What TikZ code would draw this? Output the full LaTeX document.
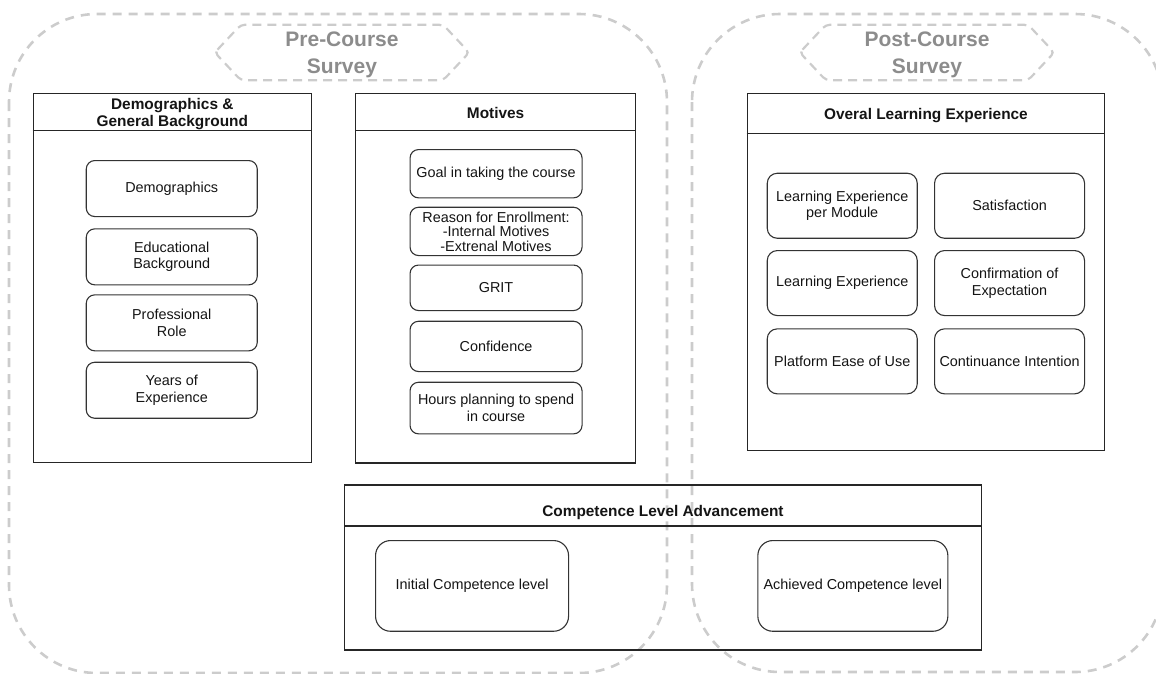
\documentclass[tikz,border=0pt]{standalone}
\usepackage{fontspec}
\setmainfont{Liberation Sans}
\usetikzlibrary{calc}
\definecolor{zonegray}{HTML}{CCCCCC}
\definecolor{zonetext}{HTML}{8C8C8C}
\definecolor{inkline}{HTML}{333333}
\definecolor{inktext}{HTML}{141414}

\begin{document}
\begin{tikzpicture}[x=1pt,y=-1pt,
  zone/.style={draw=zonegray, line width=2.6pt, dash pattern=on 9pt off 7pt, rounded corners=88pt},
  zonetag/.style={minimum width=254pt, minimum height=55pt, inner sep=0pt, align=center,
    text=zonetext, font=\fontsize{21}{26.5}\selectfont\bfseries},
  tagframe/.style={draw=zonegray, line width=2.2pt, dash pattern=on 9pt off 6pt, rounded corners=4pt},
  panel/.style={draw=black!85, line width=1.2pt, anchor=north west, inner sep=0pt},
  panelrule/.style={draw=black!85, line width=1.2pt},
  paneltitle/.style={font=\fontsize{15.4}{17}\selectfont\bfseries, text=black!92, align=center, inner sep=0pt},
  item/.style={draw=inkline, line width=1.1pt, rounded corners=8.5pt, anchor=north west, inner sep=0pt,
    align=center, text=inktext, font=\fontsize{14.4}{16.5}\selectfont},
  wideitem/.style={item, rounded corners=10pt},
  bigitem/.style={item, rounded corners=15pt},
]
\useasboundingbox (0,0) rectangle (1156,673);

% survey zones (dashed rounded outlines)
\begin{scope}
  \clip (0,0) rectangle (1156,673);
  \draw[zone] (9,14) rectangle (667,673);
  \draw[zone] (692,14) rectangle (1163,672);
\end{scope}

% hexagonal zone labels
\coordinate (prec) at (342,52.5);
\coordinate (postc) at (927,52.5);
\node[zonetag] (pre) at (prec) {};
\node[text=zonetext, font=\fontsize{21}{26.5}\selectfont\bfseries, align=center, inner sep=0pt]
  (pretext) at ($(prec)+(0,2.5)$) {Pre-Course\\Survey};
\draw[tagframe] (pre.west) -- ($(pre.north west)+(26,0)$) -- ($(pre.north east)+(-26,0)$)
  -- (pre.east) -- ($(pre.south east)+(-26,0)$) -- ($(pre.south west)+(26,0)$) -- cycle;
\node[zonetag] (post) at (postc) {};
\node[text=zonetext, font=\fontsize{21}{26.5}\selectfont\bfseries, align=center, inner sep=0pt]
  (posttext) at ($(postc)+(0,2.5)$) {Post-Course\\Survey};
\draw[tagframe] (post.west) -- ($(post.north west)+(26,0)$) -- ($(post.north east)+(-26,0)$)
  -- (post.east) -- ($(post.south east)+(-26,0)$) -- ($(post.south west)+(26,0)$) -- cycle;

% Demographics & General Background
\node[panel, minimum width=278pt, minimum height=369.3pt] (demo) at (32.7,92.7) {};
\draw[panelrule] ($(demo.north west)+(0,38)$) -- ($(demo.north east)+(0,38)$);
\node[paneltitle] (demotitle) at ($(demo.north)+(0,21)$) {Demographics \&\\General Background};
\node[item, minimum width=171pt, minimum height=56pt] (dem1) at (85.7,160) {Demographics};
\node[item, minimum width=171pt, minimum height=56pt] (dem2) at (85.7,228.3) {Educational\\Background};
\node[item, minimum width=171pt, minimum height=56pt] (dem3) at (85.7,294.3) {Professional\\Role};
\node[item, minimum width=171pt, minimum height=56pt] (dem4) at (85.7,361.7) {Years of\\Experience};

% Motives
\node[panel, minimum width=280pt, minimum height=369.6pt] (mot) at (355,92.7) {};
\draw[panelrule] ($(mot.north west)+(0,38)$) -- ($(mot.north east)+(0,38)$);
\node[paneltitle] (mottitle) at ($(mot.north)+(0,20.5)$) {Motives};
\node[item, minimum width=172pt, minimum height=48.3pt] (mot1) at (409.5,149) {Goal in taking the course};
\node[item, minimum width=172pt, minimum height=48.3pt, font=\fontsize{14.4}{14.5}\selectfont] (mot2) at (409.5,206.7)
  {Reason for Enrollment:\\-Internal Motives\\-Extrenal Motives};
\node[item, minimum width=172pt, minimum height=45.5pt] (mot3) at (409.5,264.5) {GRIT};
\node[item, minimum width=172pt, minimum height=50.3pt] (mot4) at (409.5,320.7) {Confidence};
\node[item, minimum width=172pt, minimum height=51.6pt] (mot5) at (409.5,381.7) {Hours planning to spend\\in course};

% Overal Learning Experience
\node[panel, minimum width=357.3pt, minimum height=357.3pt] (ole) at (746.7,92.7) {};
\draw[panelrule] ($(ole.north west)+(0,40.6)$) -- ($(ole.north east)+(0,40.6)$);
\node[paneltitle] (oletitle) at ($(ole.north)+(0,23)$) {Overal Learning Experience};
\node[wideitem, minimum width=150pt, minimum height=65pt] (ole1) at (766.7,172.7) {Learning Experience\\per Module};
\node[wideitem, minimum width=150pt, minimum height=65pt] (ole2) at (934,172.7) {Satisfaction};
\node[wideitem, minimum width=150pt, minimum height=65pt] (ole3) at (766.7,250) {Learning Experience};
\node[wideitem, minimum width=150pt, minimum height=65pt] (ole4) at (934,250) {Confirmation of\\Expectation};
\node[wideitem, minimum width=150pt, minimum height=65pt] (ole5) at (766.7,328.3) {Platform Ease of Use};
\node[wideitem, minimum width=150pt, minimum height=65pt] (ole6) at (934,328.3) {Continuance Intention};

% Competence Level Advancement
\node[panel, minimum width=636.7pt, minimum height=165pt] (comp) at (344,484.3) {};
\draw[panelrule] ($(comp.north west)+(0,41.7)$) -- ($(comp.north east)+(0,41.7)$);
\node[paneltitle] (comptitle) at ($(comp.north)+(0,28)$) {Competence Level Advancement};
\node[bigitem, minimum width=193pt, minimum height=90.7pt] (comp1) at (375,540) {Initial Competence level};
\node[bigitem, minimum width=190pt, minimum height=90.7pt] (comp2) at (757.3,540) {Achieved Competence level};
\end{tikzpicture}
\end{document}
